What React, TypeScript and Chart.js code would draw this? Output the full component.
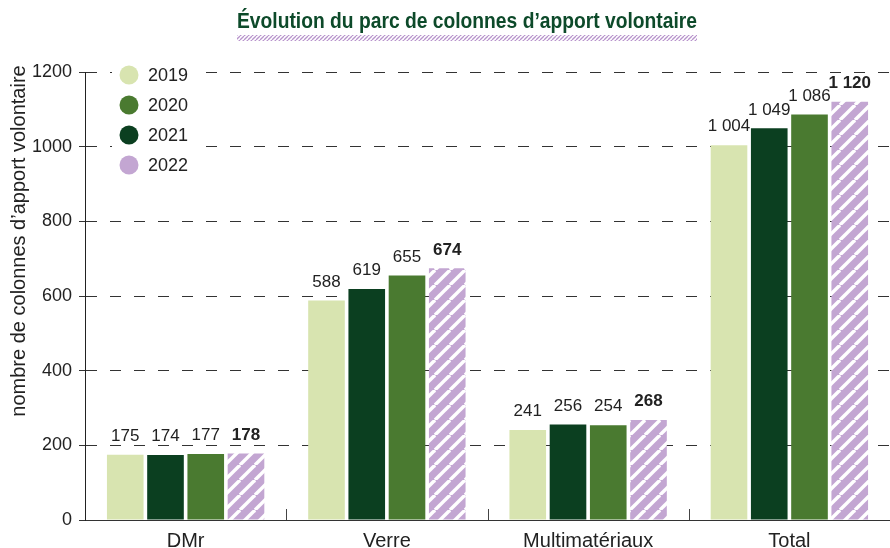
import React, { useEffect, useRef } from 'react';
import { Chart, registerables } from 'chart.js';
Chart.register(...registerables);

const chartTitle = 'Évolution du parc de colonnes d’apport volontaire';
const yAxisTitle = 'nombre de colonnes d’apport volontaire';
const categories = ['DMr', 'Verre', 'Multimatériaux', 'Total'];
const years = ['2019', '2020', '2021', '2022'];
const values2019 = [175, 588, 241, 1004];
const values2020 = [174, 619, 256, 1049];
const values2021 = [177, 655, 254, 1086];
const values2022 = [178, 674, 268, 1120];
const seriesValues = [values2019, values2020, values2021, values2022];
const yMin = 0;
const yMax = 1200;
const yStep = 200;

const LIGHT = '#d8e4b0';
const DARK = '#0b3f20';
const MID = '#4a7a30';
const PURPLE = '#c3a6d2';
const barColors = [LIGHT, DARK, MID, PURPLE];
const legendColors = [LIGHT, MID, DARK, PURPLE];
const TEXT = '#222222';
const FONT = '"Liberation Sans", Arial, sans-serif';

function fmt(v: number) {
  return String(v).replace(/\B(?=(\d{3})+(?!\d))/g, ' ');
}

function makeStripes(): CanvasPattern | string {
  const s = 15;
  const c = document.createElement('canvas');
  c.width = s;
  c.height = s;
  const g = c.getContext('2d');
  if (!g) return PURPLE;
  g.fillStyle = PURPLE;
  g.fillRect(0, 0, s, s);
  g.strokeStyle = '#ffffff';
  g.lineWidth = 3.4;
  for (let k = -1; k <= 1; k++) {
    g.beginPath();
    g.moveTo(k * s, s);
    g.lineTo(k * s + s, 0);
    g.stroke();
  }
  const p = g.createPattern(c, 'repeat');
  return p || PURPLE;
}

function makeHatch(): CanvasPattern | string {
  const s = 4;
  const c = document.createElement('canvas');
  c.width = s;
  c.height = s;
  const g = c.getContext('2d');
  if (!g) return PURPLE;
  g.strokeStyle = '#b894cc';
  g.lineWidth = 1.3;
  for (let k = -1; k <= 1; k++) {
    g.beginPath();
    g.moveTo(k * s, s);
    g.lineTo(k * s + s, 0);
    g.stroke();
  }
  return g.createPattern(c, 'repeat') || PURPLE;
}

export default function App() {
  const ref = useRef<HTMLCanvasElement | null>(null);

  useEffect(() => {
    document.body.style.margin = '0';
    const canvas = ref.current;
    if (!canvas) return;
    const stripes = makeStripes();
    const hatch = makeHatch();

    const overlay = {
      id: 'overlay',
      afterDatasetsDraw(chart: any) {
        const ctx = chart.ctx;
        ctx.save();
        ctx.fillStyle = TEXT;
        ctx.textAlign = 'center';
        ctx.textBaseline = 'bottom';
        chart.data.datasets.forEach((ds: any, di: number) => {
          const meta = chart.getDatasetMeta(di);
          ctx.font = (di === 3 ? 'bold ' : '') + '17px ' + FONT;
          meta.data.forEach((el: any, i: number) => {
            ctx.fillText(fmt(ds.data[i]), el.x, el.y - 10);
          });
        });
        ctx.restore();
      },
      afterDraw(chart: any) {
        const ctx = chart.ctx;
        const area = chart.chartArea;
        const xs = chart.scales.x;
        ctx.save();
        // category boundary ticks
        ctx.strokeStyle = '#444';
        ctx.lineWidth = 1;
        for (let i = 1; i < categories.length; i++) {
          const x = Math.round((xs.getPixelForValue(i - 1) + xs.getPixelForValue(i)) / 2) + 0.5;
          ctx.beginPath();
          ctx.moveTo(x, area.bottom);
          ctx.lineTo(x, area.bottom - 11);
          ctx.stroke();
        }
        // y axis title
        ctx.save();
        ctx.translate(19, 241);
        ctx.rotate(-Math.PI / 2);
        ctx.font = '20px ' + FONT;
        ctx.fillStyle = TEXT;
        ctx.textAlign = 'center';
        ctx.textBaseline = 'middle';
        ctx.fillText(yAxisTitle, 0, 0);
        ctx.restore();
        // title
        const cx = 467;
        ctx.font = 'bold 22px "Liberation Sans Narrow", "Liberation Sans", sans-serif';
        const w = ctx.measureText(chartTitle).width;
        ctx.save();
        ctx.translate(cx, 28);
        ctx.scale(460 / w, 1);
        ctx.fillStyle = '#0d4a2a';
        ctx.textAlign = 'center';
        ctx.textBaseline = 'alphabetic';
        ctx.fillText(chartTitle, 0, 0);
        ctx.restore();
        ctx.fillStyle = hatch;
        ctx.fillRect(237, 35, 460, 6);
        // legend
        ctx.fillStyle = '#ffffff';
        ctx.fillRect(112, 60, 88, 120);
        ctx.font = '18px ' + FONT;
        ctx.textAlign = 'left';
        ctx.textBaseline = 'middle';
        years.forEach((y, i) => {
          const yy = 75 + i * 30;
          ctx.beginPath();
          ctx.arc(129, yy, 9.5, 0, Math.PI * 2);
          ctx.fillStyle = legendColors[i];
          ctx.fill();
          ctx.fillStyle = TEXT;
          ctx.fillText(y, 148, yy + 1);
        });
        ctx.restore();
      },
    };

    const chart = new Chart(canvas, {
      type: 'bar',
      data: {
        labels: categories,
        datasets: years.map((y, i) => ({
          label: y,
          data: seriesValues[i],
          backgroundColor: i === 3 ? (stripes as any) : barColors[i],
          borderWidth: 0,
          categoryPercentage: 0.8,
          barPercentage: 0.91,
        })),
      },
      options: {
        responsive: false,
        animation: false,
        layout: { padding: { left: 8, right: -9, top: 72, bottom: 0 } },
        plugins: {
          legend: { display: false },
          title: { display: false },
          tooltip: { enabled: false },
        },
        scales: {
          x: {
            grid: { display: false },
            border: { display: true, color: '#333', width: 1 },
            ticks: {
              color: TEXT,
              font: { family: FONT, size: 20 },
              padding: 1,
              maxRotation: 0,
            },
            afterFit: (s: any) => { s.height = 28; },
          },
          y: {
            min: yMin,
            max: yMax,
            ticks: {
              stepSize: yStep,
              color: TEXT,
              font: { family: FONT, size: 18 },
              padding: 7,
              callback: (v: any) => String(v),
            },
            grid: {
              color: '#333',
              lineWidth: 1,
              tickLength: 6,
              tickColor: '#333',
              tickBorderDash: [],
            },
            border: { display: true, color: '#222', width: 1, dash: [11, 13] },
            title: { display: false },
            afterFit: (s: any) => { s.width = 77; },
          },
        },
      },
      plugins: [overlay],
    } as any);

    return () => chart.destroy();
  }, []);

  return (
    <div style={{ width: 890, height: 548 }}>
      <canvas ref={ref} width={890} height={548} />
    </div>
  );
}
